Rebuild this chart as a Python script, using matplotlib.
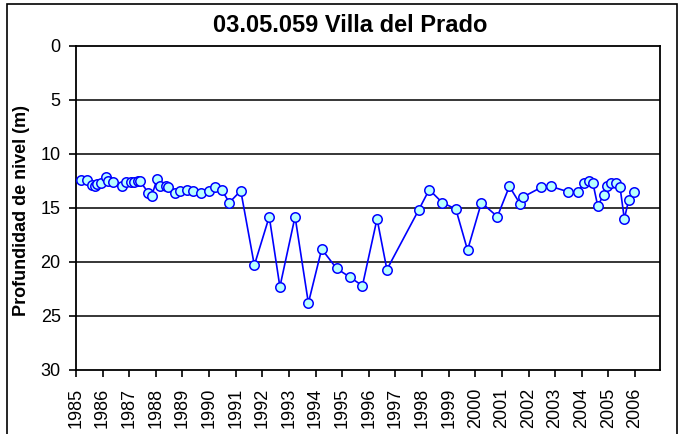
import matplotlib
matplotlib.use("Agg")
import matplotlib.pyplot as plt
from matplotlib.patches import Rectangle

plt.rcParams['font.family'] = ['Liberation Sans', 'DejaVu Sans']

# fecha (año decimal) y profundidad del nivel (m)
anio = [1985.19, 1985.40, 1985.61, 1985.70, 1985.80, 1985.93, 1986.12, 1986.21,
        1986.38, 1986.72, 1986.87, 1987.05, 1987.18, 1987.34, 1987.40, 1987.72,
        1987.84, 1988.05, 1988.16, 1988.37, 1988.44, 1988.72, 1988.91, 1989.16,
        1989.38, 1989.68, 1990.01, 1990.22, 1990.47, 1990.76, 1991.19, 1991.70,
        1992.26, 1992.66, 1993.23, 1993.73, 1994.23, 1994.79, 1995.29, 1995.76,
        1996.31, 1996.68, 1997.87, 1998.27, 1998.76, 1999.27, 1999.71, 2000.23,
        2000.83, 2001.28, 2001.68, 2001.78, 2002.47, 2002.84, 2003.49, 2003.86,
        2004.08, 2004.26, 2004.42, 2004.60, 2004.82, 2004.94, 2005.10, 2005.29,
        2005.44, 2005.60, 2005.76, 2005.96]
prof = [12.4, 12.4, 12.9, 13.0, 12.8, 12.7, 12.1, 12.5,
        12.6, 13.0, 12.6, 12.6, 12.6, 12.5, 12.5, 13.6,
        13.9, 12.3, 13.0, 13.0, 13.1, 13.6, 13.4, 13.3,
        13.4, 13.6, 13.4, 13.1, 13.3, 14.5, 13.4, 20.3,
        15.8, 22.3, 15.8, 23.8, 18.8, 20.6, 21.4, 22.2,
        16.0, 20.7, 15.2, 13.3, 14.5, 15.1, 18.9, 14.5,
        15.8, 13.0, 14.6, 14.0, 13.1, 13.0, 13.5, 13.5,
        12.7, 12.5, 12.7, 14.8, 13.8, 13.0, 12.7, 12.7,
        13.1, 16.0, 14.3, 13.5]

anios_eje = list(range(1985, 2007))
prof_ticks = [0, 5, 10, 15, 20, 25, 30]

fig = plt.figure(figsize=(6.83, 4.34), dpi=100)
ax = fig.add_axes([76/683, 1 - 370/434, (660-76)/683, (370-46)/434])

ax.plot(anio, prof, color='#0000ff', lw=1.2, marker='o', ms=6.8,
        mfc='#b8ffff', mec='#0000ff', mew=1.1, zorder=3)

ax.set_xlim(1985, 2006.94)
ax.set_ylim(30, 0)
ax.set_xticks(anios_eje)
ax.set_xticklabels([str(a) for a in anios_eje], rotation=90, fontsize=13)
ax.set_yticks(prof_ticks)
ax.set_yticklabels([str(p) for p in prof_ticks], fontsize=13)
ax.tick_params(direction='out', length=5, width=1.2, color='black')
ax.tick_params(axis='x', pad=8)
ax.tick_params(axis='y', pad=6)
for v in prof_ticks[1:-1]:
    ax.axhline(v, color='black', lw=1.1, zorder=1)
for s in ax.spines.values():
    s.set_linewidth(1.3)
    s.set_color('black')

fig.text(22/683, 1 - 210/434, 'Profundidad de nivel (m)', rotation=90, ha='center', va='center',
         fontsize=13, fontweight='bold')
fig.text(350/683, 1 - 25/434, '03.05.059 Villa del Prado', ha='center', va='center',
         fontsize=17, fontweight='bold')

# marco exterior del grafico
fig.add_artist(Rectangle((7/683, -0.02), 670/683, 1.02 - 4/434, transform=fig.transFigure,
                         fill=False, edgecolor='black', lw=1.2))

fig.savefig('out.png', dpi=100)
